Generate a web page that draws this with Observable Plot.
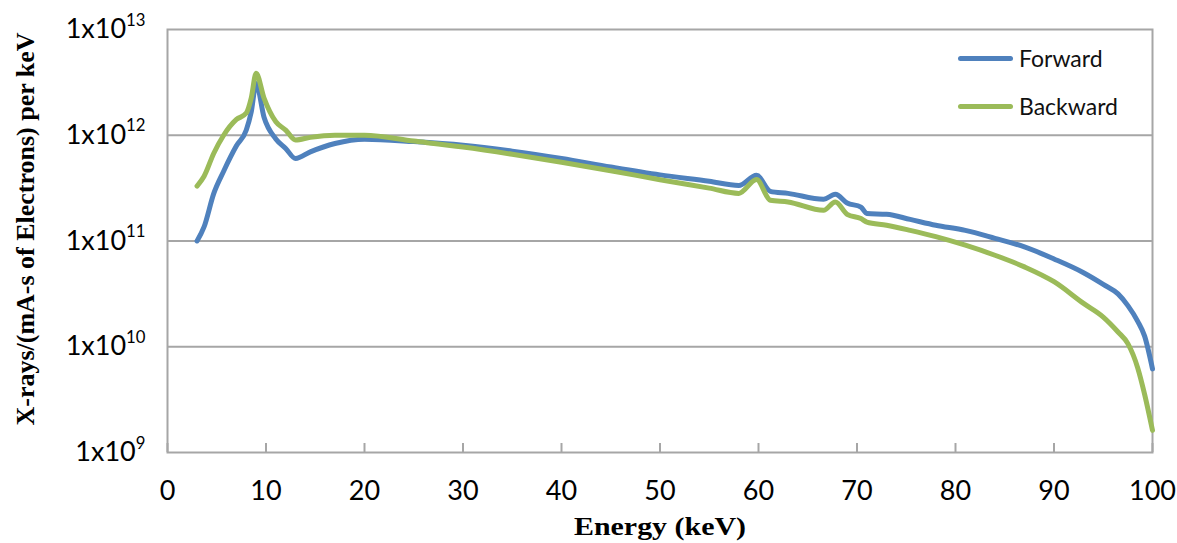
<!DOCTYPE html>
<html>
<head>
<meta charset="utf-8">
<script src="https://cdn.jsdelivr.net/npm/d3@7"></script>
<script src="https://cdn.jsdelivr.net/npm/@observablehq/plot@0.6"></script>
<style>
  body { margin: 0; background: #fff; }
  #wrap { position: relative; width: 1177px; height: 543px; overflow: hidden; }
  .leg { position: absolute; left: 958px; height: 30px; display: flex; align-items: center;
         font-family: Lato, "Open Sans", sans-serif; font-size: 23px; color: #111; }
  .leg .sw { display: inline-block; width: 55px; height: 5px; border-radius: 3px; margin-right: 6px; }
</style>
</head>
<body>
<div id="wrap"></div>
<script>
// ---- data ----
const energy = [3, 3.7, 4.7, 5.7, 7, 8, 8.5, 9, 9.8, 11, 12, 13, 14.5, 17, 20, 25, 30, 35, 40, 45, 50, 55, 58, 59.8, 61.2, 63, 66.6, 67.8, 69, 70.4, 71, 73, 75.4, 78, 81, 84, 87, 90, 93, 95, 96.5, 97.5, 98.5, 99.2, 100];
const forward = [1.00e11, 1.35e11, 2.82e11, 4.57e11, 7.94e11, 1.12e12, 1.66e12, 3.09e12, 1.48e12, 9.23e11, 7.50e11, 6.03e11, 6.97e11, 8.36e11, 9.18e11, 8.71e11, 8.05e11, 7.08e11, 6.03e11, 5.01e11, 4.22e11, 3.67e11, 3.35e11, 4.19e11, 2.95e11, 2.82e11, 2.48e11, 2.77e11, 2.29e11, 2.09e11, 1.82e11, 1.79e11, 1.60e11, 1.41e11, 1.26e11, 1.06e11, 8.79e10, 6.76e10, 5.01e10, 3.89e10, 3.16e10, 2.45e10, 1.74e10, 1.26e10, 6.17e9];
const backward = [3.31e11, 4.07e11, 6.76e11, 1.00e12, 1.41e12, 1.62e12, 2.24e12, 3.85e12, 2.24e12, 1.34e12, 1.12e12, 9.02e11, 9.55e11, 1.00e12, 1.00e12, 8.81e11, 7.73e11, 6.61e11, 5.56e11, 4.62e11, 3.80e11, 3.16e11, 2.82e11, 3.82e11, 2.43e11, 2.34e11, 1.95e11, 2.34e11, 1.79e11, 1.63e11, 1.51e11, 1.41e11, 1.26e11, 1.10e11, 9.12e10, 7.33e10, 5.69e10, 4.12e10, 2.57e10, 1.91e10, 1.38e10, 1.07e10, 6.31e9, 3.55e9, 1.62e9];
const seriesNames = ["Forward", "Backward"];
const seriesColors = ["#4F81BD", "#9BBB59"];
const xTicks = [0, 10, 20, 30, 40, 50, 60, 70, 80, 90, 100];
const yTicks = [1e9, 1e10, 1e11, 1e12, 1e13];
const yExponents = ["9", "10", "11", "12", "13"];
const gridValues = [1e10, 1e11, 1e12];
const xTitle = "Energy (keV)";
const yTitle = "X-rays/(mA-s of Electrons) per keV";

const fwdData = energy.map((e, i) => ({energy: e, value: forward[i]}));
const bwdData = energy.map((e, i) => ({energy: e, value: backward[i]}));

const chart = Plot.plot({
  width: 1177,
  height: 543,
  marginLeft: 167,
  marginTop: 29,
  marginRight: 25,
  marginBottom: 91,
  style: {fontFamily: "Lato, 'Open Sans', sans-serif", background: "#fff", color: "#000"},
  x: {domain: [0, 100], label: null},
  y: {type: "log", domain: [1e9, 1e13], label: null},
  marks: [
    Plot.ruleY(gridValues, {stroke: "#a6a6a6", strokeWidth: 2}),
    Plot.frame({stroke: "#a6a6a6", strokeWidth: 2}),
    Plot.ruleX(xTicks, {insetTop: 414, stroke: "#a6a6a6", strokeWidth: 2}),
    Plot.axisX({ticks: xTicks, tickSize: 0, tickPadding: 28, fontSize: 27, fill: "#000", label: null}),
    Plot.axisY({ticks: yTicks, tickSize: 0, tickPadding: 22, fontSize: 27, fill: "#000", label: null,
      tickFormat: (d) => "1x10^" + yExponents[yTicks.indexOf(d)]}),
    Plot.text([xTitle], {frameAnchor: "bottom", lineAnchor: "middle", dy: 74,
      fontFamily: "'Liberation Serif', serif", fontWeight: "bold", fontSize: 26, fill: "#000",
      className: "xtitle"}),
    Plot.text([yTitle], {frameAnchor: "left", textAnchor: "middle", lineAnchor: "middle",
      rotate: -90, dx: -142, dy: -12,
      fontFamily: "'Liberation Serif', serif", fontWeight: "bold", fontSize: 26, fill: "#000",
      className: "ytitle"}),
    Plot.line(fwdData, {x: "energy", y: "value", stroke: seriesColors[0], strokeWidth: 5,
      curve: "monotone-x", strokeLinejoin: "round", strokeLinecap: "round"}),
    Plot.line(bwdData, {x: "energy", y: "value", stroke: seriesColors[1], strokeWidth: 5,
      curve: "monotone-x", strokeLinejoin: "round", strokeLinecap: "round"})
  ]
});

// superscript exponents on the y tick labels
d3.select(chart).selectAll('g[aria-label="y-axis tick label"] text').each(function () {
  const t = d3.select(this);
  const [base, exp] = t.text().split("^");
  t.text(base);
  t.append("tspan").attr("dy", "-0.75em").attr("font-size", "0.62em").text(exp);
});
// fit the titles to the reference lengths
d3.select(chart).selectAll(".ytitle text").attr("textLength", 393).attr("lengthAdjust", "spacingAndGlyphs");
d3.select(chart).selectAll(".xtitle text").attr("textLength", 172).attr("lengthAdjust", "spacingAndGlyphs");

const wrap = document.getElementById("wrap");
wrap.appendChild(chart);

// legend
const legTops = [43, 91];
seriesNames.forEach((name, i) => {
  const div = document.createElement("div");
  div.className = "leg";
  div.style.top = legTops[i] + "px";
  const sw = document.createElement("span");
  sw.className = "sw";
  sw.style.background = seriesColors[i];
  div.appendChild(sw);
  div.appendChild(document.createTextNode(name));
  wrap.appendChild(div);
});
</script>
</body>
</html>
